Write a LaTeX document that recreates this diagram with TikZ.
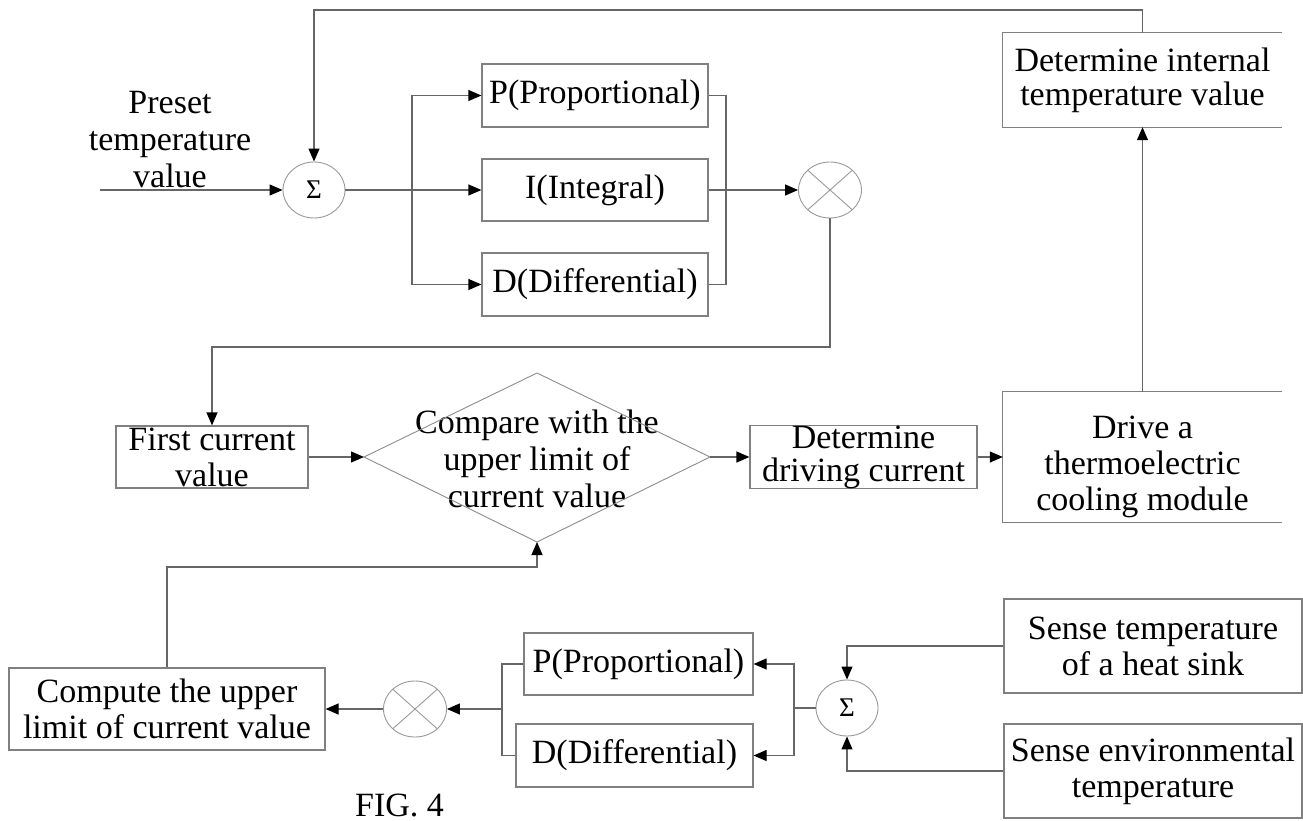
\documentclass[tikz,border=0pt]{standalone}
\usepackage{fontspec}
\setmainfont{Liberation Serif}
\usetikzlibrary{arrows.meta,shapes.geometric,calc}
\begin{document}
\begin{tikzpicture}[x=1pt,y=-1pt,
  font=\fontsize{34}{36}\selectfont,
  box/.style={draw=black!50, line width=1.2pt, rectangle, inner sep=0pt, align=center},
  openbox/.style={rectangle, inner sep=0pt, align=center},
  edge/.style={draw=black!50, line width=1.2pt},
  sumnode/.style={ellipse, draw=black!40, line width=0.9pt, minimum width=62pt, minimum height=56pt, inner sep=0pt, font=\fontsize{27}{28}\selectfont},
  mulnode/.style={ellipse, draw=black!40, line width=0.9pt, minimum width=63pt, minimum height=56pt, inner sep=0pt,
    path picture={\draw[black!40, line width=0.9pt] (path picture bounding box.north west) -- (path picture bounding box.south east) (path picture bounding box.north east) -- (path picture bounding box.south west);}},
  conn/.style={draw=black!60, line width=1.2pt},
  arr/.style={conn, -{Triangle[length=13pt,width=11pt,color=black]}},
]
\useasboundingbox (0,0) rectangle (1303,821);

% ---- top PID loop ----
\node[openbox, font=\fontsize{34}{37}\selectfont] (preset) at (170,140) {Preset\\temperature\\value};
\coordinate (in) at (100,190);
\node[sumnode] (s1) at (314,190) {Σ};
\node[box, minimum width=226pt, minimum height=63pt] (p1) at (595,95.5) {P(Proportional)};
\node[box, minimum width=226pt, minimum height=62pt] (i1) at (595,190) {I(Integral)};
\node[box, minimum width=226pt, minimum height=63pt] (d1) at (595,284.5) {D(Differential)};
\node[mulnode] (m1) at (830,190) {};
\coordinate (split) at (412,190);
\coordinate (merge) at (726,190);

\node[openbox, minimum width=279pt, minimum height=94pt, font=\fontsize{34}{34}\selectfont] (det) at (1142.5,80) {Determine internal\\temperature value};
\node[openbox, minimum width=279pt, minimum height=130pt] (drv) at (1142.5,457) {};
\node[openbox] (drvt) at (1142.5,467) {Drive a\\thermoelectric\\cooling module};
\draw[edge] (det.north east) -- (det.north west) -- (det.south west) -- (det.south east);
\draw[edge] (drv.north east) -- (drv.north west) -- (drv.south west) -- (drv.south east);

% ---- middle row ----
\node[box, minimum width=192pt, minimum height=62pt] (first) at (212,457) {First current\\value};
\node[openbox, font=\fontsize{34}{37}\selectfont] (cmp) at (537,459) {Compare with the\\upper limit of\\current value};
\coordinate (cmpL) at (364,457);
\coordinate (cmpR) at (710,457);
\coordinate (cmpT) at (537,373);
\coordinate (cmpB) at (537,542);
\draw[black!45, line width=0.9pt] (cmpL) -- (cmpT) -- (cmpR) -- (cmpB) -- cycle;
\node[box, minimum width=227pt, minimum height=62pt, font=\fontsize{34}{33}\selectfont] (dc) at (863.5,457) {Determine\\driving current};

% ---- bottom loop ----
\node[box, minimum width=298pt, minimum height=94pt] (hs) at (1153,646) {Sense temperature\\of a heat sink};
\node[box, minimum width=298pt, minimum height=94pt] (env) at (1153,771) {Sense environmental\\temperature};
\node[sumnode] (s2) at (847,708) {Σ};
\node[box, minimum width=229pt, minimum height=62pt] (p2) at (638.5,664) {P(Proportional)};
\node[box, minimum width=237pt, minimum height=63pt] (d2) at (634.5,755.5) {D(Differential)};
\coordinate (sp2) at (794,708);
\coordinate (mg2) at (502,709);
\node[mulnode] (m2) at (415,709) {};
\node[box, minimum width=316pt, minimum height=82pt] (comp) at (167,709) {Compute the upper\\limit of current value};
\coordinate (up) at (167,567);
\coordinate (fb1) at (830,347);
\coordinate (top) at (1142.5,10);

\node[anchor=base west, inner sep=0pt] (fig) at (355,816) {FIG. 4};

% ---- connectors ----
\draw[arr] (in) -- (s1);
\draw[conn] (s1) -- (split);
\draw[arr] (split) -- (i1);
\draw[arr] (split) |- (p1.west);
\draw[arr] (split) |- (d1.west);
\draw[conn] (p1.east) -| (merge) |- (d1.east);
\draw[arr] (i1) -- (m1);
\draw[arr] (m1.south) -- (fb1) -| (first.north);
\draw[arr] (first) -- (cmpL);
\draw[arr] (cmpR) -- (dc);
\draw[arr] (dc) -- (drv.west);
\draw[arr] (drv.north) -- (det.south);
\draw[arr] (det.north) -- (top) -| (s1.north);

\draw[arr] (hs.west) -| (s2.north);
\draw[arr] (env.west) -| (s2.south);
\draw[conn] (s2) -- (sp2);
\draw[arr] (sp2) |- (p2.east);
\draw[arr] (sp2) |- (d2.east);
\draw[conn] (p2.west) -| (mg2) |- (d2.west);
\draw[arr] (mg2) -- (m2);
\draw[arr] (m2) -- (comp);
\draw[arr] (comp.north) -- (up) -| (cmpB);
\end{tikzpicture}
\end{document}
